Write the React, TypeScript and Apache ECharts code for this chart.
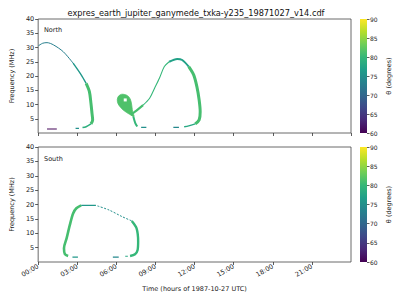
import React, { useEffect, useRef } from "react";
import * as echarts from "echarts";

// ---- data (hours since 1987-10-27 00:00 UTC, frequency MHz) ----
const TITLE = "expres_earth_jupiter_ganymede_txka-y235_19871027_v14.cdf";
const TIME_TICKS = ["00:00", "03:00", "06:00", "09:00", "12:00", "15:00", "18:00", "21:00", "24:00"];
const THETA_RANGE = [60, 90];
const VIRIDIS = ["#440154", "#482878", "#3e4989", "#31688e", "#26828e", "#1f9e89", "#35b779", "#6ece58", "#b5de2b", "#fde725"];

// North hemisphere
const N_ARC1_TOP = [[0.02, 30.6], [0.35, 31.5], [0.68, 31.7], [1.18, 30.9], [1.93, 28.5], [2.68, 24.5]];
const N_ARC1_MID = [[2.68, 24.5], [3.3, 20.4], [3.68, 17.4]];
const N_ARC1_LOW = [[3.68, 17.4], [3.93, 14.5], [4.05, 10.4], [4.13, 6.9], [4.18, 4.6], [4.05, 3.2]];
const N_ARC1_FOOT = [[4.05, 3.2], [3.68, 2.2], [3.4, 1.9]];
const N_SEG_A = [[2.87, 1.6], [3.13, 1.6]];
const N_SEG_PURPLE = [[0.68, 1.4], [1.43, 1.4]];
const N_BLOB = [[6.5, 13.6], [6.85, 13.1], [7.05, 12.0], [7.15, 10.5], [7.2, 9.0], [7.25, 7.4], [7.35, 5.8], [7.0, 6.6], [6.6, 7.8], [6.25, 9.4], [6.08, 11.0], [6.12, 12.6], [6.3, 13.4]];
const N_BLOB_HOLE = [[6.68, 11.6]];
const N_TAIL = [[7.3, 5.8], [7.45, 3.5], [7.6, 2.3]];
const N_SEG_B = [[7.9, 2.0], [8.3, 2.0]];
const N_RISE_LOW = [[7.1, 6.5], [7.43, 7.5], [8.05, 9.8]];
const N_RISE = [[8.05, 9.8], [8.55, 12.2], [8.93, 15.7], [9.3, 19.2], [9.68, 23.3], [10.05, 25.0]];
const N_ARC2_TOP = [[10.05, 25.0], [10.67, 26.0], [11.05, 25.6], [11.55, 23.3]];
const N_ARC2_DOWN = [[11.55, 23.3], [11.93, 20.4], [12.18, 16.2], [12.35, 11.6], [12.43, 7.5], [12.35, 4.6], [12.05, 3.2]];
const N_ARC2_FOOT = [[12.05, 3.2], [11.55, 2.5], [11.2, 2.2]];
const N_SEG_C = [[10.37, 2.0], [10.8, 2.0]];

// South hemisphere
const S_LEFT = [[2.3, 2.1], [2.05, 2.7], [1.98, 4.8], [2.18, 8.2], [2.43, 12.9], [2.68, 16.9], [2.93, 18.7], [3.3, 19.7]];
const S_TOP = [[3.3, 19.7], [4.43, 19.7]];
const S_SLOPE = [[4.55, 19.5], [5.43, 18.1], [6.43, 15.8], [7.18, 14.3]];
const S_RIGHT = [[7.18, 14.3], [7.55, 11.7], [7.67, 7.1], [7.63, 4.2], [7.43, 2.7], [7.05, 2.1]];
const S_SEG_A = [[6.68, 2.0], [6.88, 2.0]];
const S_SEG_B = [[5.73, 1.7], [6.18, 1.7]];
const S_SEG_C = [[2.63, 1.7], [3.05, 1.7]];

// [panel, points, theta (degrees)]
const SEGMENTS: [number, number[][], number][] = [
  [0, N_ARC1_TOP, 73], [0, N_ARC1_MID, 76], [0, N_ARC1_LOW, 81], [0, N_ARC1_FOOT, 79],
  [0, N_SEG_A, 75], [0, N_SEG_PURPLE, 60.5],
  [0, N_TAIL, 80], [0, N_SEG_B, 75],
  [0, N_RISE_LOW, 81], [0, N_RISE, 80], [0, N_ARC2_TOP, 77], [0, N_ARC2_DOWN, 81], [0, N_ARC2_FOOT, 78], [0, N_SEG_C, 74],
  [1, S_LEFT, 81], [1, S_TOP, 76], [1, S_SLOPE, 75], [1, S_RIGHT, 80],
  [1, S_SEG_A, 78], [1, S_SEG_B, 74], [1, S_SEG_C, 76],
];
const BLOB_THETA = 81.5;

// ---- styles (line widths per segment, in same order) ----
const WIDTHS = [1.0, 1.4, 3.0, 1.5, 1.2, 1.2, 2.0, 1.2, 2.2, 1.1, 2.0, 3.0, 1.5, 1.2, 2.6, 1.4, 1.0, 2.4, 1.2, 1.2, 1.2];
const DASHED = { 16: [2, 1.5] } as Record<number, number[]>;

const FONT = "DejaVu Sans";

export default function App() {
  const ref = useRef<HTMLDivElement>(null);
  useEffect(() => {
    if (!ref.current) return;
    const chart = echarts.init(ref.current, null, { renderer: "svg" });
    const colorOf = (theta: number) =>
      echarts.color.lerp((theta - THETA_RANGE[0]) / (THETA_RANGE[1] - THETA_RANGE[0]), VIRIDIS);

    const plotGrids = [
      { left: 31, top: 19, width: 320, height: 114 },
      { left: 31, top: 147, width: 320, height: 115 },
    ];
    const cbGrids = [
      { left: 360, top: 19, width: 7, height: 114 },
      { left: 360, top: 147, width: 7, height: 115 },
    ];
    const axisText = { fontFamily: FONT, fontSize: 6.5, color: "#222" };

    const xAxes: any[] = [];
    const yAxes: any[] = [];
    [0, 1].forEach((i) => {
      xAxes.push({
        type: "value", gridIndex: i, min: 0, max: 24, interval: 3,
        axisLine: { show: false }, splitLine: { show: false },
        axisTick: { show: true, inside: false, length: 3, lineStyle: { color: "#333", width: 0.8 } },
        axisLabel: {
          show: i === 1, ...axisText, rotate: 30, margin: 4,
          showMaxLabel: false,
          formatter: (v: number) => TIME_TICKS[Math.round(v / 3)],
        },
        name: i === 1 ? "Time (hours of 1987-10-27 UTC)" : "",
        nameLocation: "middle", nameGap: 23,
        nameTextStyle: { fontFamily: FONT, fontSize: 6.5, color: "#222" },
      });
      yAxes.push({
        type: "value", gridIndex: i, min: 0, max: 40, interval: 5,
        axisLine: { show: false }, splitLine: { show: false },
        axisTick: { show: true, inside: false, length: 3, lineStyle: { color: "#333", width: 0.8 } },
        axisLabel: { ...axisText, margin: 4, showMinLabel: false },
        name: "Frequency (MHz)", nameLocation: "middle", nameGap: 17, nameRotate: 90,
        nameTextStyle: { fontFamily: FONT, fontSize: 6.5, color: "#222" },
      });
    });
    [0, 1].forEach((i) => {
      xAxes.push({ type: "category", gridIndex: 2 + i, data: [""], show: false });
      yAxes.push({
        type: "value", gridIndex: 2 + i, min: THETA_RANGE[0], max: THETA_RANGE[1], interval: 5,
        position: "right",
        axisLine: { show: false }, splitLine: { show: false },
        axisTick: { show: true, inside: false, length: 2.5, lineStyle: { color: "#333", width: 0.8 } },
        axisLabel: { ...axisText, fontSize: 6, margin: 3 },
        name: "θ (degrees)", nameLocation: "middle", nameGap: 18, nameRotate: 90,
        nameTextStyle: { fontFamily: FONT, fontSize: 6.5, color: "#222" },
      });
    });

    const series: any[] = SEGMENTS.map(([panel, pts, theta], k) => ({
      type: "line", xAxisIndex: panel, yAxisIndex: panel, data: pts,
      showSymbol: false, symbol: "none", silent: true, smooth: 0.3,
      lineStyle: { color: colorOf(theta), width: WIDTHS[k], type: DASHED[k] || "solid", cap: "butt" },
    }));
    // filled loop (teardrop) of the north emission, drawn through the axes' scales
    series.push({
      type: "custom", xAxisIndex: 0, yAxisIndex: 0, silent: true,
      data: N_BLOB, encode: { x: 0, y: 1 },
      renderItem: (params: any, api: any) => {
        if (params.dataIndex !== 0) return null;
        const pts = N_BLOB.map((p) => api.coord(p));
        const hole = api.coord(N_BLOB_HOLE[0]);
        return {
          type: "group",
          children: [
            {
              type: "polygon", shape: { points: pts, smooth: 0.4 },
              style: { fill: colorOf(BLOB_THETA), stroke: colorOf(BLOB_THETA), lineWidth: 0.8 },
            },
            { type: "rect", shape: { x: hole[0] - 1.5, y: hole[1] - 1.5, width: 3, height: 3 }, style: { fill: "#fff" } },
          ],
        };
      },
    });
    [0, 1].forEach((i) => {
      series.push({
        type: "bar", xAxisIndex: 2 + i, yAxisIndex: 2 + i, stack: "cb" + i, barWidth: "100%",
        data: [THETA_RANGE[0]], itemStyle: { color: "transparent" }, silent: true,
      });
      series.push({
        type: "bar", xAxisIndex: 2 + i, yAxisIndex: 2 + i, stack: "cb" + i, barWidth: "100%",
        data: [THETA_RANGE[1] - THETA_RANGE[0]], silent: true,
        itemStyle: {
          color: {
            type: "linear", x: 0, y: 1, x2: 0, y2: 0,
            colorStops: VIRIDIS.map((c, j) => ({ offset: j / (VIRIDIS.length - 1), color: c })),
          },
        },
      });
    });

    chart.setOption({
      animation: false,
      backgroundColor: "#fff",
      textStyle: { fontFamily: FONT },
      title: {
        text: TITLE, left: 191, top: 4, textAlign: "center",
        textStyle: { fontFamily: FONT, fontSize: 8.2, fontWeight: "normal", color: "#111" },
      },
      grid: [
        ...plotGrids.map((g) => ({ ...g, show: true, borderColor: "#444", borderWidth: 0.8, backgroundColor: "transparent" })),
        ...cbGrids.map((g) => ({ ...g, show: false })),
      ],
      xAxis: xAxes,
      yAxis: yAxes,
      graphic: [
        { type: "text", left: 44, top: 26, style: { text: "North", font: `6.5px ${FONT}`, fill: "#222" } },
        { type: "text", left: 44, top: 155, style: { text: "South", font: `6.5px ${FONT}`, fill: "#222" } },
      ],
      series,
    });
    return () => chart.dispose();
  }, []);
  return <div ref={ref} style={{ width: 400, height: 300, position: "absolute", left: 0, top: 0 }} />;
}
